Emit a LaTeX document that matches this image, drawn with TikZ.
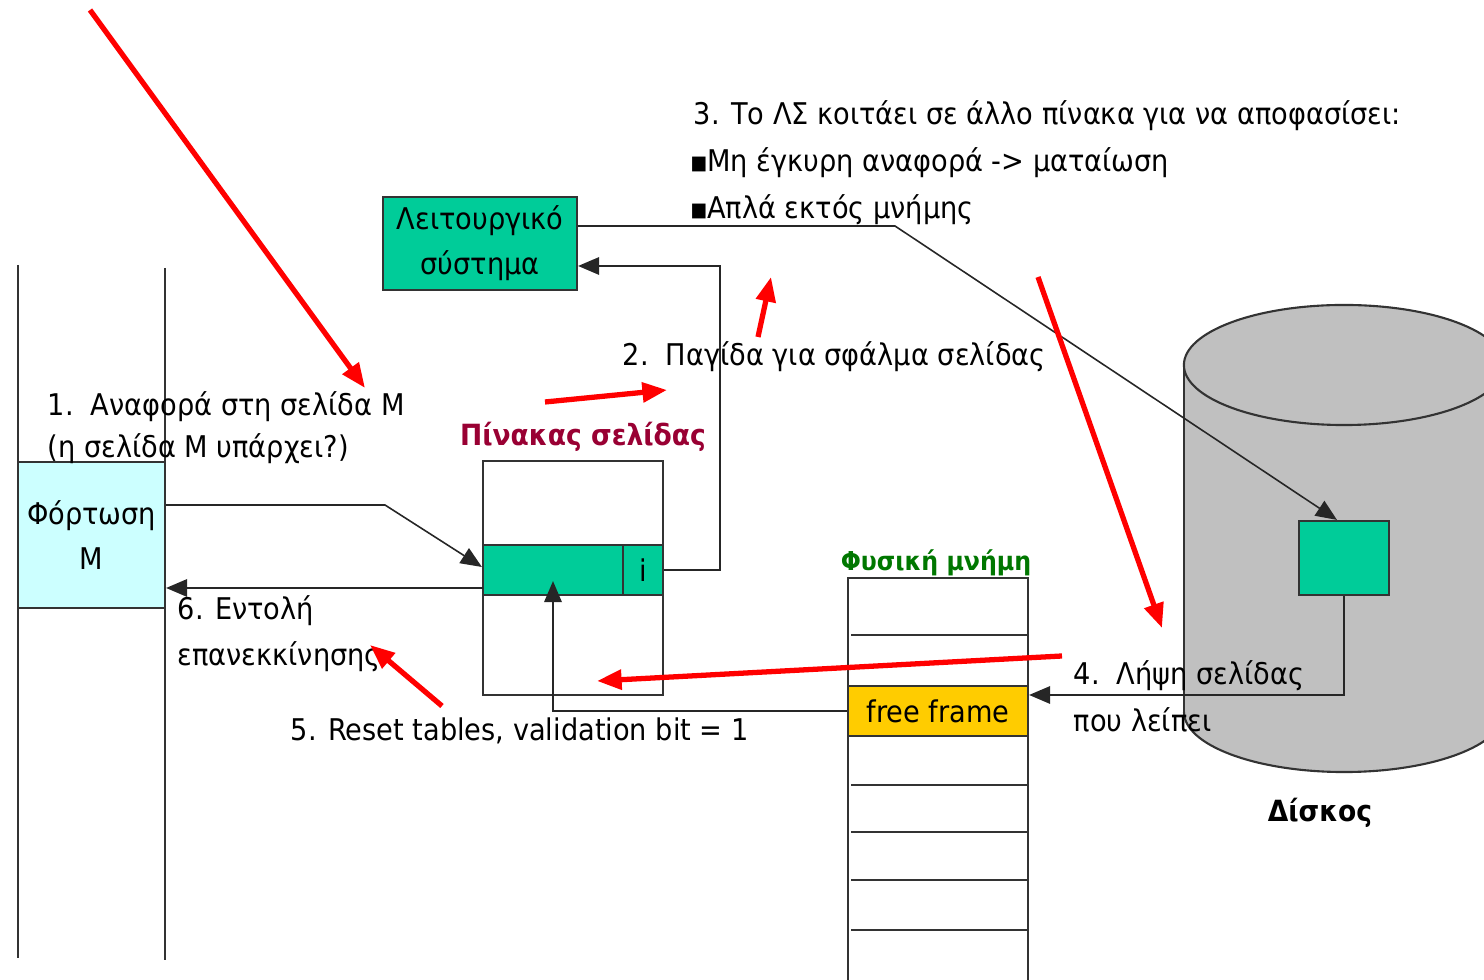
\documentclass[tikz,border=0pt]{standalone}
\usepackage{fontspec}
\setmainfont[FakeStretch=0.91]{DejaVu Sans}
\usetikzlibrary{arrows.meta}
\definecolor{boxgreen}{HTML}{00CC99}
\definecolor{boxcyan}{HTML}{CCFFFF}
\definecolor{frameyellow}{HTML}{FFCC00}
\definecolor{diskgray}{HTML}{C0C0C0}
\definecolor{titlered}{HTML}{990033}
\definecolor{titlegreen}{HTML}{007700}
\definecolor{edge}{HTML}{333333}
\newcommand{\bulletsq}{{\fontsize{5.5}{6}\selectfont\raisebox{0.25ex}{■}}}
\tikzset{
  box/.style={draw=edge, line width=0.6pt, inner sep=0pt, align=center, font=\fontsize{8.5}{12.8}\selectfont},
  txt/.style={inner sep=0pt, anchor=west, font=\fontsize{8.5}{12.8}\selectfont},
  heading/.style={inner sep=0pt, font=\bfseries\fontsize{8.3}{10}\selectfont},
  link/.style={draw=black!85, line width=0.45pt, -{Triangle[length=6pt,width=5pt]}},
  note/.style={draw=red, line width=1.5pt, -{Triangle[length=7pt,width=5.5pt]}},
  rule/.style={draw=edge, line width=0.6pt}
}
\begin{document}
\begin{tikzpicture}[x=0.01cm, y=-0.01cm]
\useasboundingbox (0,0) rectangle (1484,980);

% process address-space lines
\draw[rule] (18,265) -- (18,958);
\draw[rule] (165,268) -- (165,960);

% disk cylinder
\fill[diskgray] (1184,365) rectangle (1510,712);
\fill[diskgray] (1344,712) ellipse [x radius=1.6cm, y radius=0.6cm];
\draw[rule] (1184,365) -- (1184,712);
\draw[rule] (1184,712) arc[start angle=180, end angle=360, x radius=1.6cm, y radius=0.6cm];
\filldraw[rule, fill=diskgray] (1344,365) ellipse [x radius=1.6cm, y radius=0.6cm];
\node[heading] (disklabel) at (1320,813) {Δίσκος};
\node[box, fill=boxgreen, minimum width=0.9cm, minimum height=0.74cm] (dblock) at (1344,558) {};

% boxes
\node[box, fill=boxcyan, minimum width=1.47cm, minimum height=1.46cm] (load) at (91.5,535) {Φόρτωση\\Μ};
\node[box, fill=boxgreen, minimum width=1.94cm, minimum height=0.93cm] (os) at (480,243.5) {Λειτουργικό\\σύστημα};

% page table
\node[heading, text=titlered] (pttitle) at (583,437) {Πίνακας σελίδας};
\node[box, minimum width=1.8cm, minimum height=2.34cm] (pt) at (573,578) {};
\node[box, fill=boxgreen, minimum width=1.4cm, minimum height=0.5cm] (ptrow) at (553,570) {};
\node[box, fill=boxgreen, minimum width=0.4cm, minimum height=0.5cm] (ptbit) at (643,570) {i};

% physical memory
\node[heading, text=titlegreen, font=\bfseries\fontsize{7.4}{9}\selectfont] (memtitle) at (936,563) {Φυσική μνήμη};
\node[box, minimum width=1.8cm, minimum height=4.1cm] (mem) at (938,783) {};
\foreach \yy in {635,785,832,880,930} \draw[rule] (851,\yy) -- (1028,\yy);
\node[box, fill=frameyellow, minimum width=1.8cm, minimum height=0.5cm] (frame) at (938,711) {free frame};

% labels
\node[txt] (t3) at (693,116) {3. Το ΛΣ κοιτάει σε άλλο πίνακα για να αποφασίσει:};
\node[txt] (t3a) at (690,163) {\bulletsq Μη έγκυρη αναφορά -> ματαίωση};
\node[txt] (t3b) at (690,210) {\bulletsq Απλά εκτός μνήμης};
\node[txt] (t2) at (622,357) {2.\ \ Παγίδα για σφάλμα σελίδας};
\node[txt] (t1a) at (47,407) {1.\ \ Αναφορά στη σελίδα Μ};
\node[txt] (t1b) at (47,449) {(η σελίδα Μ υπάρχει?)};
\node[txt] (t6a) at (177,611) {6. Εντολή};
\node[txt] (t6b) at (177,657) {επανεκκίνησης};
\node[txt] (t5) at (290,731) {5. Reset tables, validation bit = 1};
\node[txt] (t4a) at (1073,676) {4.\ \ Λήψη σελίδας};
\node[txt] (t4b) at (1073,720) {που λείπει};

% bend points of the connectors
\coordinate (b1) at (385,505);
\coordinate (b2) at (720,266);
\coordinate (b3) at (895,226);
\coordinate (b4) at (1344,695);
\coordinate (b6) at (483,588);

% connectors
\draw[link] (load.east |- b1) -- (b1) -- ([yshift=0.03cm]ptrow.west);
\draw[link] (ptbit.east) -| (b2) -- (os.east |- b2);
\draw[link] (os.east |- b3) -- (b3) -- ([xshift=-0.07cm]dblock.north);
\draw[link] (dblock.south) -- (b4) -- (frame.east |- b4);
\draw[link] (frame.west) -| ([yshift=0.15cm]ptrow.south);
\draw[link] (b6) -- (load.east |- b6);

% red annotation arrows
\coordinate (r1s) at (90,10);     \coordinate (r1e) at (365,388);
\coordinate (r2s) at (545,402);   \coordinate (r2e) at (667,390);
\coordinate (r3s) at (758,337);   \coordinate (r3e) at (771,277);
\coordinate (r4s) at (1038,277);  \coordinate (r4e) at (1162,628);
\coordinate (r5s) at (1062,656);  \coordinate (r5e) at (597,681);
\coordinate (r6s) at (442,706);   \coordinate (r6e) at (370,645);
\draw[note] (r1s) -- (r1e);
\draw[note] (r2s) -- (r2e);
\draw[note] (r3s) -- (r3e);
\draw[note] (r4s) -- (r4e);
\draw[note] (r5s) -- (r5e);
\draw[note] (r6s) -- (r6e);
\end{tikzpicture}
\end{document}
